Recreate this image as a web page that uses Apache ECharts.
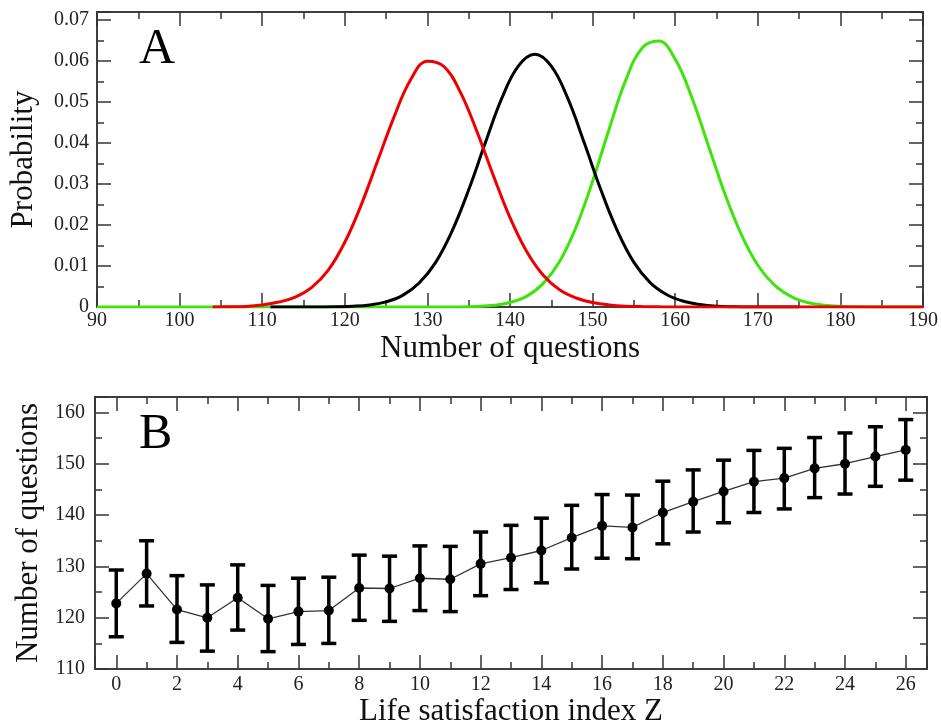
<!DOCTYPE html>
<html lang="en">
<head>
<meta charset="UTF-8">
<title>questions vs life satisfaction</title>
<script src="https://cdn.jsdelivr.net/npm/echarts@6/dist/echarts.min.js"></script>
<style>
    html, body { margin: 0; padding: 0; background: #fff; }
    #main { width: 941px; height: 728px; }
</style>
</head>
<body>
<div id="main"></div>
<script>
    // Panel A: probability vs number of questions
    var qx = [90, 92, 94, 96, 98, 100, 102, 104, 106, 108,
              110, 112, 114, 116, 118, 120, 122, 124, 126, 128,
              130, 132, 134, 136, 138, 140, 142, 144, 146, 148,
              150, 152, 154, 156, 158, 160, 162, 164, 166, 168,
              170, 172, 174, 176, 178, 180, 182, 184, 186, 188, 190];
    var pRed = [null, null, null, null, null, null, null, 0.00002, 0.00005, 0.00015,
                0.0005, 0.0012, 0.0024, 0.0048, 0.0090, 0.0158, 0.0250, 0.0358, 0.0466, 0.0556,
                0.0600, 0.0587, 0.0524, 0.0428, 0.0320, 0.0218, 0.0136, 0.0078, 0.0042, 0.0022,
                0.0011, 0.0005, 0.0002, 0.0001, 0.00004, 0, 0, 0, 0, 0,
                0, 0, 0, 0, 0, 0, 0, 0, 0, 0, 0];
    var pGreen = [0, 0, 0, 0, 0, 0, 0, 0, 0, 0,
                  0, 0, 0, 0, 0, 0, 0, 0, 0, 0,
                  0, 0, 0, 0.00013, 0.0004, 0.0011, 0.0026, 0.0057, 0.0111, 0.0195,
                  0.0307, 0.0434, 0.0553, 0.0632, 0.0649, 0.0605, 0.0512, 0.0395, 0.0277, 0.0177,
                  0.0102, 0.0054, 0.0026, 0.0011, 0.00045, 0.00016, 0.00005, 0.00001, 0, 0, 0];
    // black curve is read at odd values so that its peak (143) is on the grid
    var qxOdd = [111, 113, 115, 117, 119, 121, 123, 125, 127, 129,
                 131, 133, 135, 137, 139, 141, 143, 145, 147, 149,
                 151, 153, 155, 157, 159, 161, 163, 165, 167, 169,
                 171, 173, 175];
    var pBlack = [0, 0, 0.000005, 0.00002, 0.00006, 0.00018, 0.0005, 0.00126, 0.00284, 0.00585,
                  0.0109, 0.0186, 0.0286, 0.0400, 0.0509, 0.0588, 0.0617, 0.0588, 0.0509, 0.0400,
                  0.0286, 0.0186, 0.0109, 0.0059, 0.0030, 0.0014, 0.0006, 0.0002, 0.00006, 0.00002,
                  0.000005, 0, 0];

    // Panel B: mean number of questions per life satisfaction index Z
    var zIdx = [0, 1, 2, 3, 4, 5, 6, 7, 8, 9, 10, 11, 12, 13,
                14, 15, 16, 17, 18, 19, 20, 21, 22, 23, 24, 25, 26];
    var zMean = [122.8, 128.6, 121.6, 120.0, 123.9, 119.8, 121.2, 121.4, 125.8, 125.7, 127.7, 127.5, 130.5, 131.7,
                 133.1, 135.6, 137.9, 137.6, 140.5, 142.6, 144.6, 146.5, 147.2, 149.1, 150.0, 151.4, 152.7];
    var zHigh = [129.3, 135.0, 128.2, 126.4, 130.3, 126.3, 127.7, 127.9, 132.2, 132.0, 134.0, 133.9, 136.7, 138.0,
                 139.4, 141.9, 144.0, 143.9, 146.6, 148.8, 150.7, 152.6, 153.0, 155.1, 156.0, 157.2, 158.6];
    var zLow = [116.3, 122.3, 115.2, 113.5, 117.6, 113.4, 114.8, 115.0, 119.5, 119.3, 121.4, 121.2, 124.3, 125.5,
                126.8, 129.5, 131.6, 131.5, 134.4, 136.7, 138.5, 140.5, 141.2, 143.4, 144.1, 145.6, 146.8];

    var FONT = '"Liberation Serif", "Times New Roman", serif';
    var frame = '#333';

    function pairs(xs, ys) {
        return xs.map(function (x, i) { return [x, ys[i]]; });
    }

    function baseAxis(o) {
        var ax = {
            type: 'value',
            splitLine: { show: false },
            axisLine: { show: true, onZero: false, lineStyle: { color: frame, width: 1.5 } },
            axisTick: { show: true, inside: true, length: 14, lineStyle: { color: frame, width: 1.5 } },
            minorTick: { show: true, splitNumber: 2, length: 7, lineStyle: { color: frame, width: 1.5 } },
            minorSplitLine: { show: false },
            axisLabel: { show: true, fontSize: 20, fontFamily: FONT, color: '#222' },
            nameTextStyle: { fontSize: 31, fontFamily: FONT, color: '#111' }
        };
        for (var k in o) {
            if (typeof o[k] === 'object' && ax[k] && !Array.isArray(o[k])) {
                ax[k] = Object.assign({}, ax[k], o[k]);
            } else {
                ax[k] = o[k];
            }
        }
        return ax;
    }

    function renderErr(params, api) {
        var x = api.value(0);
        var lo = api.coord([x, api.value(1)]);
        var hi = api.coord([x, api.value(2)]);
        var w = 7.5;
        var st = { stroke: '#000', lineWidth: 3.5 };
        return {
            type: 'group',
            children: [
                { type: 'line', shape: { x1: hi[0], y1: hi[1], x2: lo[0], y2: lo[1] }, style: st },
                { type: 'line', shape: { x1: hi[0] - w, y1: hi[1], x2: hi[0] + w, y2: hi[1] }, style: st },
                { type: 'line', shape: { x1: lo[0] - w, y1: lo[1], x2: lo[0] + w, y2: lo[1] }, style: st }
            ]
        };
    }

    var myChart = echarts.init(document.getElementById('main'));
    var option = {
        animation: false,
        backgroundColor: '#fff',
        title: [
            { text: 'A', left: 139, top: 25, padding: 0, textStyle: { fontSize: 50, fontWeight: 'normal', fontFamily: FONT, color: '#000' } },
            { text: 'B', left: 139, top: 410, padding: 0, textStyle: { fontSize: 50, fontWeight: 'normal', fontFamily: FONT, color: '#000' } }
        ],
        grid: [
            { left: 95, right: 15, top: 12, height: 295, show: true, borderColor: frame, borderWidth: 1.5, backgroundColor: '#fff' },
            { left: 95, right: 14, top: 397, height: 275, show: true, borderColor: frame, borderWidth: 1.5, backgroundColor: '#fff' }
        ],
        xAxis: [
            baseAxis({ gridIndex: 0, position: 'bottom', min: 90, max: 190, interval: 10,
                axisLabel: { margin: 4 },
                name: 'Number of questions', nameLocation: 'middle', nameGap: 26 }),
            baseAxis({ gridIndex: 0, position: 'top', min: 90, max: 190, interval: 10,
                axisLabel: { show: false } }),
            baseAxis({ gridIndex: 1, position: 'bottom', min: -0.7, max: 26.7, splitNumber: 14,
                axisLabel: { margin: 6, showMinLabel: false, showMaxLabel: false },
                name: 'Life satisfaction index Z', nameLocation: 'middle', nameGap: 24 }),
            baseAxis({ gridIndex: 1, position: 'top', min: -0.7, max: 26.7, splitNumber: 14,
                axisLabel: { show: false } })
        ],
        yAxis: [
            baseAxis({ gridIndex: 0, position: 'left', min: 0, max: 0.072, interval: 0.01,
                axisLabel: { margin: 8, showMaxLabel: false },
                name: 'Probability', nameLocation: 'middle', nameGap: 58, nameRotate: 90 }),
            baseAxis({ gridIndex: 0, position: 'right', min: 0, max: 0.072, interval: 0.01,
                axisLabel: { show: false } }),
            baseAxis({ gridIndex: 1, position: 'left', min: 110, max: 163, interval: 10,
                axisLabel: { margin: 10, showMaxLabel: false },
                name: 'Number of questions', nameLocation: 'middle', nameGap: 51, nameRotate: 90 }),
            baseAxis({ gridIndex: 1, position: 'right', min: 110, max: 163, interval: 10,
                axisLabel: { show: false } })
        ],
        series: [
            {
                name: 'high', type: 'line', xAxisIndex: 0, yAxisIndex: 0,
                data: pairs(qx, pGreen), showSymbol: false, smooth: 0.4,
                lineStyle: { color: '#3fe40c', width: 3 }
            },
            {
                name: 'middle', type: 'line', xAxisIndex: 0, yAxisIndex: 0,
                data: pairs(qxOdd, pBlack), showSymbol: false, smooth: 0.4,
                lineStyle: { color: '#000', width: 3 }
            },
            {
                name: 'low', type: 'line', xAxisIndex: 0, yAxisIndex: 0,
                data: pairs(qx, pRed), showSymbol: false, smooth: 0.4,
                lineStyle: { color: '#ee0000', width: 3 }
            },
            {
                name: 'error', type: 'custom', xAxisIndex: 2, yAxisIndex: 2,
                renderItem: renderErr,
                encode: { x: 0, y: [1, 2] },
                data: zIdx.map(function (z, i) { return [z, zLow[i], zHigh[i]]; }),
                z: 2
            },
            {
                name: 'mean', type: 'line', xAxisIndex: 2, yAxisIndex: 2,
                data: pairs(zIdx, zMean), symbol: 'circle', symbolSize: 10, showSymbol: true,
                lineStyle: { color: '#333', width: 1.3 },
                itemStyle: { color: '#000' },
                z: 3
            }
        ]
    };
    myChart.setOption(option);
</script>
</body>
</html>
